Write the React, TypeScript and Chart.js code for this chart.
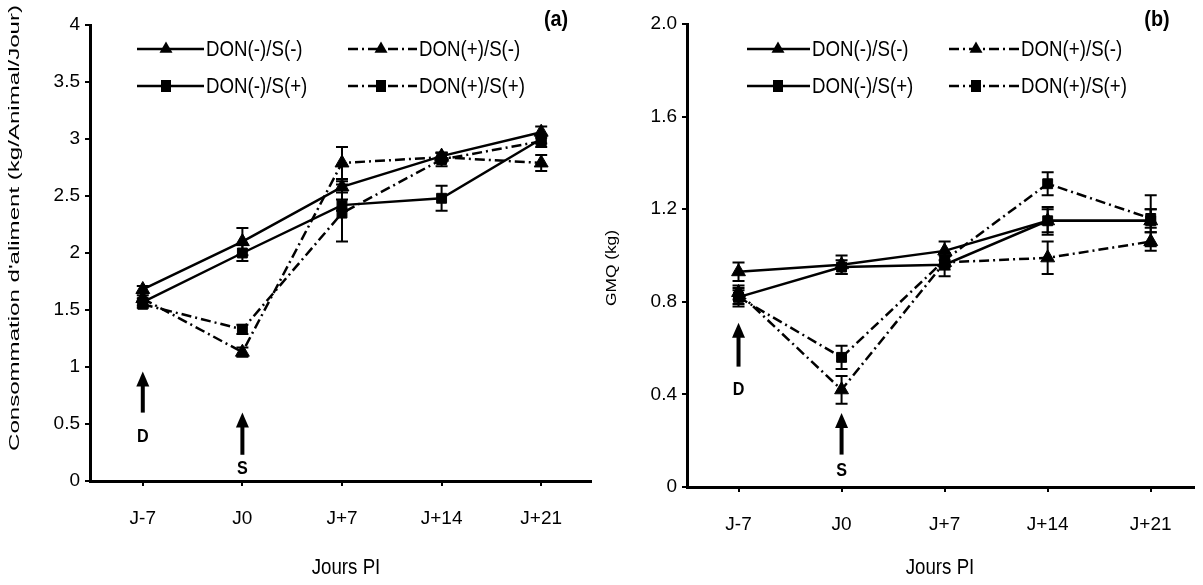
import React, { useEffect, useRef } from "react";
import { Chart, registerables } from "chart.js";
Chart.register(...registerables);

// ---------- DATA ----------
const categories = ["J-7", "J0", "J+7", "J+14", "J+21"];
const seriesNames = ["DON(-)/S(-)", "DON(-)/S(+)", "DON(+)/S(-)", "DON(+)/S(+)"];

// Panel (a): Consommation d'aliment (kg/Animal/Jour)
const aDonMinusSMinus = [1.68, 2.1, 2.58, 2.85, 3.06];
const aDonMinusSPlus = [1.57, 2.0, 2.42, 2.48, 3.0];
const aDonPlusSMinus = [1.6, 1.13, 2.79, 2.84, 2.79];
const aDonPlusSPlus = [1.55, 1.33, 2.35, 2.82, 2.98];
const aErrDonMinusSMinus = [0.03, 0.12, 0.05, 0.03, 0.05];
const aErrDonMinusSPlus = [0.03, 0.07, 0.05, 0.11, 0.04];
const aErrDonPlusSMinus = [0.03, 0.04, 0.14, 0.04, 0.07];
const aErrDonPlusSPlus = [0.03, 0.04, 0.25, 0.06, 0.05];
const aYTicks = [0, 0.5, 1, 1.5, 2, 2.5, 3, 3.5, 4];

// Panel (b): GMQ (kg)
const bDonMinusSMinus = [0.93, 0.96, 1.02, 1.15, 1.15];
const bDonMinusSPlus = [0.82, 0.95, 0.96, 1.15, 1.15];
const bDonPlusSMinus = [0.84, 0.42, 0.97, 0.99, 1.06];
const bDonPlusSPlus = [0.82, 0.56, 0.98, 1.31, 1.16];
const bErrDonMinusSMinus = [0.04, 0.04, 0.04, 0.05, 0.05];
const bErrDonMinusSPlus = [0.04, 0.03, 0.05, 0.06, 0.11];
const bErrDonPlusSMinus = [0.03, 0.06, 0.03, 0.07, 0.04];
const bErrDonPlusSPlus = [0.03, 0.05, 0.03, 0.05, 0.04];
const bYTicks = [0, 0.4, 0.8, 1.2, 1.6, 2.0];

// ---------- STYLE / LAYOUT ----------
const BASE = "'Liberation Sans', Arial, sans-serif";
const NARROW_SX = 0.85;
const DASH_DOT = [10, 4, 2, 4];
const seriesStyle = [
  { dashed: false, point: "triangle" },
  { dashed: false, point: "rect" },
  { dashed: true, point: "triangle" },
  { dashed: true, point: "rect" },
];

type Arrow = { x: number; head: number; tail: number; label: number; text: string };

type PanelCfg = {
  left: number;
  width: number;
  area: { left: number; top: number; right: number; bottom: number };
  xMin: number;
  xMax: number;
  yMax: number;
  yTicks: number[];
  yFmt: (v: number) => string;
  values: number[][];
  errors: number[][];
  title: string;
  titleX: number;
  yTitle: string;
  yTitleX: number;
  yTitleY: number;
  yTitleLen: number;
  yTitleSize: number;
  xTitleX: number;
  xTitleY: number;
  legendRows: number[];
  legendCols: { l0: number; l1: number; m: number; t: number }[];
  arrows: Arrow[];
};

function textFit(ctx: CanvasRenderingContext2D, text: string, x: number, y: number, size: number, o: { bold?: boolean; sx?: number; align?: CanvasTextAlign; rot?: number; len?: number } = {}) {
  ctx.save();
  ctx.translate(x, y);
  if (o.rot) ctx.rotate(o.rot);
  ctx.font = `${o.bold ? "bold " : ""}${size}px ${BASE}`;
  let sx = o.sx ?? NARROW_SX;
  if (o.len) sx = o.len / ctx.measureText(text).width;
  ctx.scale(sx, 1);
  ctx.textAlign = o.align ?? "left";
  ctx.textBaseline = "middle";
  ctx.fillStyle = "#000";
  ctx.fillText(text, 0, 0);
  ctx.restore();
}

function marker(ctx: CanvasRenderingContext2D, style: string, x: number, y: number) {
  ctx.save();
  ctx.fillStyle = "#000";
  ctx.beginPath();
  if (style === "triangle") {
    const r = 7.5;
    ctx.moveTo(x, y - r);
    ctx.lineTo(x + r * 0.866, y + r * 0.5);
    ctx.lineTo(x - r * 0.866, y + r * 0.5);
    ctx.closePath();
  } else {
    ctx.rect(x - 5, y - 6, 10, 12);
  }
  ctx.fill();
  ctx.restore();
}

function makePlugin(cfg: PanelCfg) {
  return {
    id: "decor",
    beforeDatasetsDraw(chart: any) {
      const ctx = chart.ctx as CanvasRenderingContext2D;
      const ys = chart.scales.y;
      ctx.save();
      ctx.strokeStyle = "#000";
      ctx.lineWidth = 2;
      cfg.values.forEach((vals, i) => {
        const meta = chart.getDatasetMeta(i);
        vals.forEach((v, j) => {
          const e = cfg.errors[i][j];
          const px = meta.data[j].x;
          const t = ys.getPixelForValue(v + e);
          const b = ys.getPixelForValue(v - e);
          ctx.beginPath();
          ctx.moveTo(px, t);
          ctx.lineTo(px, b);
          ctx.moveTo(px - 6, t);
          ctx.lineTo(px + 6, t);
          ctx.moveTo(px - 6, b);
          ctx.lineTo(px + 6, b);
          ctx.stroke();
        });
      });
      ctx.restore();
    },
    afterDraw(chart: any) {
      const ctx = chart.ctx as CanvasRenderingContext2D;
      const xs = chart.scales.x;
      const ys = chart.scales.y;
      // legend
      const order = [
        [0, 2],
        [1, 3],
      ];
      order.forEach((row, r) => {
        row.forEach((si, c) => {
          const col = cfg.legendCols[c];
          const y = cfg.legendRows[r];
          const st = seriesStyle[si];
          ctx.save();
          ctx.strokeStyle = "#000";
          ctx.lineWidth = 2.5;
          ctx.setLineDash(st.dashed ? DASH_DOT : []);
          ctx.beginPath();
          ctx.moveTo(col.l0, y);
          ctx.lineTo(col.l1, y);
          ctx.stroke();
          ctx.restore();
          marker(ctx, st.point, col.m, y);
          textFit(ctx, seriesNames[si], col.t, y + 1, 22);
        });
      });
      // panel title
      textFit(ctx, cfg.title, cfg.titleX, 20, 22, { bold: true, align: "center", sx: 0.9 });
      // axis titles
      textFit(ctx, cfg.yTitle, cfg.yTitleX, cfg.yTitleY, cfg.yTitleSize, { align: "center", rot: -Math.PI / 2, len: cfg.yTitleLen });
      textFit(ctx, "Jours PI", cfg.xTitleX, cfg.xTitleY, 22, { align: "center" });
      // arrows
      cfg.arrows.forEach((a) => {
        const x = xs.getPixelForValue(a.x);
        const h = ys.getPixelForValue(a.head);
        const t = ys.getPixelForValue(a.tail);
        ctx.save();
        ctx.strokeStyle = "#000";
        ctx.fillStyle = "#000";
        ctx.lineWidth = 4;
        ctx.beginPath();
        ctx.moveTo(x, t);
        ctx.lineTo(x, h + 12);
        ctx.stroke();
        ctx.beginPath();
        ctx.moveTo(x, h);
        ctx.lineTo(x + 6.5, h + 15);
        ctx.lineTo(x - 6.5, h + 15);
        ctx.closePath();
        ctx.fill();
        ctx.restore();
        textFit(ctx, a.text, x, ys.getPixelForValue(a.label), 19, { bold: true, align: "center", sx: 0.85 });
      });
    },
  };
}

function Panel({ cfg, tickFont }: { cfg: PanelCfg; tickFont: any }) {
  const ref = useRef<HTMLCanvasElement>(null);
  useEffect(() => {
    const canvas = ref.current!;
    const H = 585;
    const datasets = cfg.values.map((vals, i) => ({
      label: seriesNames[i],
      data: vals.map((v, j) => ({ x: j, y: v })),
      borderColor: "#000",
      backgroundColor: "#000",
      borderWidth: 2.5,
      borderDash: seriesStyle[i].dashed ? DASH_DOT : [],
      pointStyle: seriesStyle[i].point,
      pointRadius: seriesStyle[i].point === "triangle" ? 8 : 7,
      pointBackgroundColor: "#000",
      pointBorderColor: "#000",
      pointBorderWidth: 1,
      tension: 0,
      fill: false,
    }));
    const chart = new Chart(canvas, {
      type: "line",
      data: { datasets },
      options: {
        responsive: false,
        animation: false,
        events: [],
        layout: {
          padding: { left: 0, top: cfg.area.top, right: cfg.width - cfg.area.right, bottom: 0 },
        },
        plugins: { legend: { display: false }, tooltip: { enabled: false } },
        scales: {
          x: {
            type: "linear",
            min: cfg.xMin,
            max: cfg.xMax,
            afterBuildTicks: (s: any) => {
              s.ticks = categories.map((_, i) => ({ value: i }));
            },
            afterFit: (s: any) => {
              s.height = H - cfg.area.bottom;
            },
            ticks: {
              callback: (v: any) => categories[Math.round(Number(v))] ?? "",
              color: "#000",
              font: tickFont,
              padding: 21,
              maxRotation: 0,
              autoSkip: false,
            },
            grid: { drawOnChartArea: false, drawTicks: true, tickLength: 5, color: "#000", lineWidth: 2 },
            border: { color: "#000", width: 3 },
          },
          y: {
            type: "linear",
            min: 0,
            max: cfg.yMax,
            afterBuildTicks: (s: any) => {
              s.ticks = cfg.yTicks.map((v) => ({ value: v }));
            },
            afterFit: (s: any) => {
              s.width = cfg.area.left;
            },
            ticks: {
              callback: (v: any) => cfg.yFmt(Number(v)),
              color: "#000",
              font: tickFont,
              padding: 5,
            },
            grid: { drawOnChartArea: false, drawTicks: true, tickLength: 5, color: "#000", lineWidth: 2 },
            border: { color: "#000", width: 3 },
          },
        },
      },
      plugins: [makePlugin(cfg)],
    } as any);
    return () => chart.destroy();
  }, [cfg, tickFont]);
  return (
    <div style={{ position: "absolute", left: cfg.left, top: 0, width: cfg.width, height: 585 }}>
      <canvas ref={ref} width={cfg.width} height={585} style={{ display: "block" }} />
    </div>
  );
}

const panelA: PanelCfg = {
  left: 0,
  width: 600,
  area: { left: 90, top: 25, right: 595, bottom: 481 },
  xMin: -0.53,
  xMax: 4.5,
  yMax: 4,
  yTicks: aYTicks,
  yFmt: (v) => String(v),
  values: [aDonMinusSMinus, aDonMinusSPlus, aDonPlusSMinus, aDonPlusSPlus],
  errors: [aErrDonMinusSMinus, aErrDonMinusSPlus, aErrDonPlusSMinus, aErrDonPlusSPlus],
  title: "(a)",
  titleX: 556,
  yTitle: "Consommation d'aliment (kg/Animal/Jour)",
  yTitleX: 15,
  yTitleY: 228,
  yTitleLen: 446,
  yTitleSize: 15,
  xTitleX: 346,
  xTitleY: 568,
  legendRows: [49, 86],
  legendCols: [
    { l0: 137, l1: 204, m: 166, t: 206 },
    { l0: 348, l1: 417, m: 381, t: 419 },
  ],
  arrows: [
    { x: 0, head: 0.96, tail: 0.6, label: 0.39, text: "D" },
    { x: 1, head: 0.6, tail: 0.23, label: 0.11, text: "S" },
  ],
};

const panelB: PanelCfg = {
  left: 600,
  width: 603,
  area: { left: 87, top: 24, right: 603, bottom: 487 },
  xMin: -0.5,
  xMax: 4.42,
  yMax: 2.0,
  yTicks: bYTicks,
  yFmt: (v) => (v === 0 ? "0" : v.toFixed(1)),
  values: [bDonMinusSMinus, bDonMinusSPlus, bDonPlusSMinus, bDonPlusSPlus],
  errors: [bErrDonMinusSMinus, bErrDonMinusSPlus, bErrDonPlusSMinus, bErrDonPlusSPlus],
  title: "(b)",
  titleX: 557,
  yTitle: "GMQ (kg)",
  yTitleX: 12,
  yTitleY: 268,
  yTitleLen: 76,
  yTitleSize: 15,
  xTitleX: 340,
  xTitleY: 568,
  legendRows: [49, 86],
  legendCols: [
    { l0: 147, l1: 210, m: 178, t: 212 },
    { l0: 349, l1: 419, m: 376, t: 421 },
  ],
  arrows: [
    { x: 0, head: 0.71, tail: 0.52, label: 0.42, text: "D" },
    { x: 1, head: 0.32, tail: 0.14, label: 0.07, text: "S" },
  ],
};

function pickTickFont() {
  const c = document.createElement("canvas").getContext("2d")!;
  const s = "DON(-)/S(-) J+14";
  c.font = "20px monospace";
  const mono = c.measureText(s).width;
  c.font = "20px 'Liberation Sans Narrow', monospace";
  const nar = c.measureText(s).width;
  if (Math.abs(nar - mono) > 1) return { family: "'Liberation Sans Narrow'", size: 22 };
  return { family: BASE, size: 19 };
}

export default function App() {
  const tickFont = React.useMemo(() => pickTickFont(), []);
  return (
    <div style={{ position: "absolute", left: 0, top: 0, width: 1203, height: 585, background: "#fff", overflow: "hidden" }}>
      <Panel cfg={panelA} tickFont={tickFont} />
      <Panel cfg={panelB} tickFont={tickFont} />
    </div>
  );
}
